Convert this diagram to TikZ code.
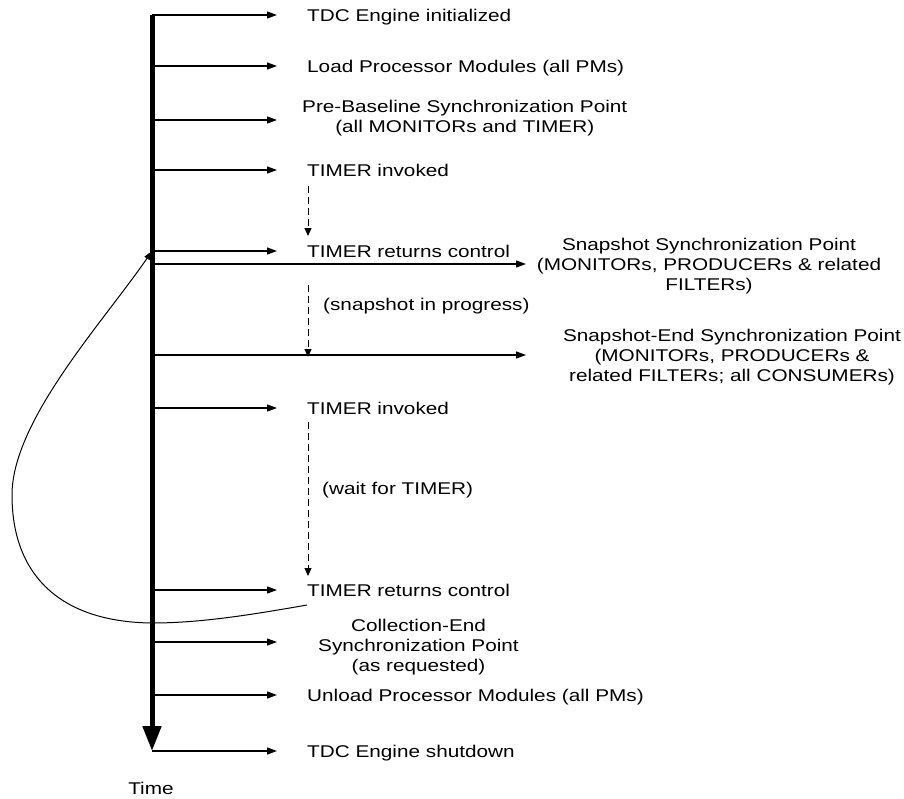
\documentclass[tikz,border=0pt]{standalone}
\usepackage{fontspec}
\setmainfont{Liberation Sans}[FakeStretch=1.22]
\usetikzlibrary{arrows.meta}
\begin{document}
\begin{tikzpicture}[x=1pt,y=-1pt,
  lbl/.style={inner sep=0pt, font=\fontsize{17}{20}\selectfont, align=center},
  evt/.style={-{Triangle[length=10pt,width=7pt]}, line width=1.2pt},
  waitarrow/.style={-{Triangle[length=8pt,width=7pt]}, line width=1pt, dash pattern=on 7pt off 4pt},
  loop/.style={-{Triangle[length=9pt,width=6pt]}, line width=1pt},
  timeline/.style={line width=5pt, -{Triangle[length=25pt,width=18pt]}}]
\useasboundingbox (0,0) rectangle (904,798);

% time axis
\coordinate (t0) at (152,15);
\coordinate (tend) at (152,751);
\draw[timeline] (t0) -- (tend);
\node[lbl] (time) at (151,788) {Time};

% points on the axis where events branch off
\coordinate (t1) at (152,15);
\coordinate (t2) at (152,66);
\coordinate (t3) at (152,120);
\coordinate (t4) at (152,170);
\coordinate (t5) at (152,251);
\coordinate (t6) at (152,264);
\coordinate (t7) at (152,355);
\coordinate (t8) at (152,408);
\coordinate (t9) at (152,590);
\coordinate (t10) at (152,642);
\coordinate (t11) at (152,695);
\coordinate (t12) at (152,751);

% arrow ends
\coordinate (a1) at (277,15);
\coordinate (a2) at (277,66);
\coordinate (a3) at (277,120);
\coordinate (a4) at (277,170);
\coordinate (a5) at (277,251);
\coordinate (a6) at (526,264);
\coordinate (a7) at (526,355);
\coordinate (a8) at (277,408);
\coordinate (a9) at (277,590);
\coordinate (a10) at (277,642);
\coordinate (a11) at (277,695);
\coordinate (a12) at (277,751);

% event labels
\node[lbl, anchor=base west] (e1) at (307,21) {TDC Engine initialized};
\node[lbl, anchor=base west] (e2) at (307,72) {Load Processor Modules (all PMs)};
\node[lbl, anchor=west] (e3) at (302,118) {Pre-Baseline Synchronization Point\\(all MONITORs and TIMER)};
\node[lbl, anchor=base west] (e4) at (307,176) {TIMER invoked};
\node[lbl, anchor=base west] (e5) at (307,257) {TIMER returns control};
\node[lbl] (e6) at (709,266) {Snapshot Synchronization Point\\(MONITORs, PRODUCERs \& related\\FILTERs)};
\node[lbl] (e7) at (732,357) {Snapshot-End Synchronization Point\\(MONITORs, PRODUCERs \&\\related FILTERs; all CONSUMERs)};
\node[lbl, anchor=base west] (e8) at (307,414) {TIMER invoked};
\node[lbl, anchor=base west] (e9) at (307,596) {TIMER returns control};
\node[lbl, anchor=west] (e10) at (318,647) {Collection-End\\Synchronization Point\\(as requested)};
\node[lbl, anchor=base west] (e11) at (307,701) {Unload Processor Modules (all PMs)};
\node[lbl, anchor=base west] (e12) at (307,757) {TDC Engine shutdown};

\foreach \i in {1,...,12}{
  \draw[evt] (t\i) -- (a\i);
}

% waiting intervals
\coordinate (w1s) at (308,186);
\coordinate (w1e) at (308,236);
\coordinate (w2s) at (308,285);
\coordinate (w2e) at (308,357);
\coordinate (w3s) at (308,422);
\coordinate (w3e) at (308,576);
\draw[waitarrow] (w1s) -- (w1e);
\draw[waitarrow] (w2s) -- (w2e);
\draw[waitarrow] (w3s) -- (w3e);
\node[lbl, anchor=base west] (p1) at (323,310) {(snapshot in progress)};
\node[lbl, anchor=base west] (p2) at (322,494) {(wait for TIMER)};

% loop back for the next snapshot
\coordinate (l0) at (307,605);
\coordinate (l1) at (152,623);
\coordinate (l2) at (12,495);
\draw[loop] (l0) .. controls (250,615) and (200,623) .. (l1)
  .. controls (60,622) and (12,575) .. (l2)
  .. controls (12,420) and (105,320) .. (t5);
\end{tikzpicture}
\end{document}
